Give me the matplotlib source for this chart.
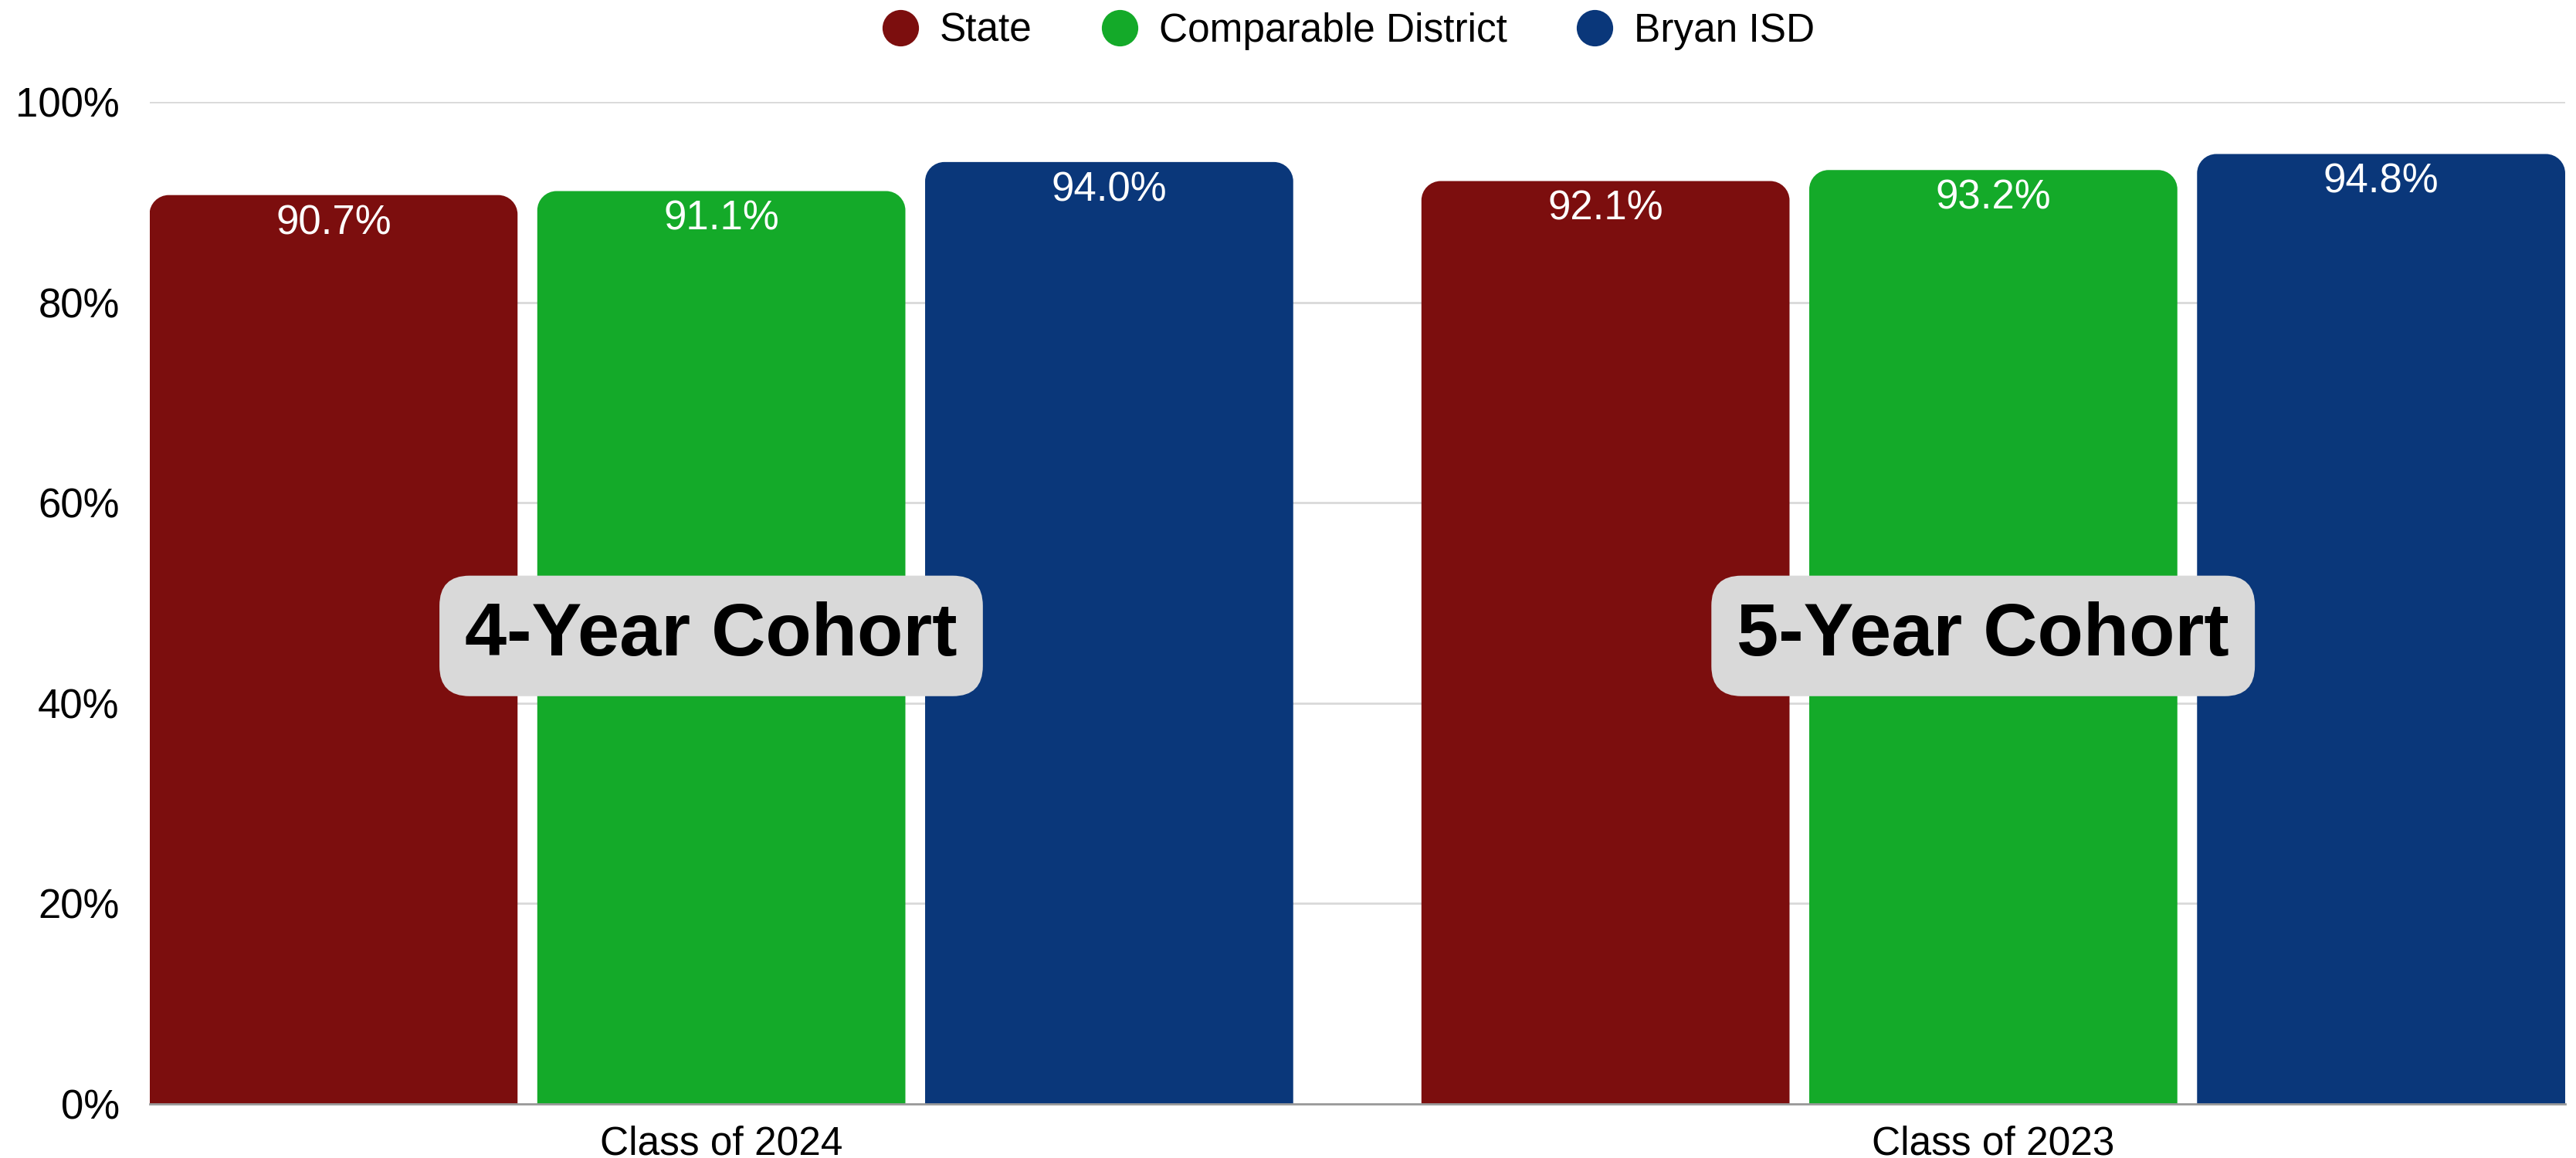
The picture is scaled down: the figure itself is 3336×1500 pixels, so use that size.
import numpy as np
import matplotlib.pyplot as plt
from matplotlib.path import Path
from matplotlib.patches import PathPatch
from matplotlib.lines import Line2D

plt.rcParams['font.family'] = ['Liberation Sans', 'DejaVu Sans']

# data
classes = ['Class of 2024', 'Class of 2023']
cohorts = ['4-Year Cohort', '5-Year Cohort']
series = ['State', 'Comparable District', 'Bryan ISD']
state = [90.7, 92.1]
comparable = [91.1, 93.2]
bryan = [94.0, 94.8]
colors = ['#7C0E0E', '#14AA29', '#0A377A']

W, H, DPI = 33.37, 15.0, 100
fig = plt.figure(figsize=(W, H), dpi=DPI)
ax = fig.add_axes([0.058, 0.0468, 0.9375, 0.8652])

x = np.arange(len(classes))
bw = 0.2894
step = 0.3049
xlim = (-0.4496, 1.4496)
ax.set_xlim(*xlim)
ax.set_ylim(0, 100)

# corner radius in pixels -> data units
ax_w_px = W * DPI * 0.9375
ax_h_px = H * DPI * 0.8652
r_px = 25
rx = r_px / ax_w_px * (xlim[1] - xlim[0])
ry = r_px / ax_h_px * 100
k = 0.5523


def top_rounded(x0, w, h, color):
    x1 = x0 + w
    verts = [(x0, 0), (x0, h - ry),
             (x0, h - ry + k * ry), (x0 + rx - k * rx, h), (x0 + rx, h),
             (x1 - rx, h),
             (x1 - rx + k * rx, h), (x1, h - ry + k * ry), (x1, h - ry),
             (x1, 0), (x0, 0)]
    codes = [Path.MOVETO, Path.LINETO,
             Path.CURVE4, Path.CURVE4, Path.CURVE4,
             Path.LINETO,
             Path.CURVE4, Path.CURVE4, Path.CURVE4,
             Path.LINETO, Path.CLOSEPOLY]
    ax.add_patch(PathPatch(Path(verts, codes), facecolor=color,
                           edgecolor='none', zorder=3))


for i, (vals, c) in enumerate(zip([state, comparable, bryan], colors)):
    for j, v in enumerate(vals):
        left = x[j] + (i - 1) * step - bw / 2
        top_rounded(left, bw, v, c)
        ax.text(left + bw / 2, v - 2.8, f'{v:.1f}%', ha='center', va='center',
                color='white', fontsize=38, zorder=4)

# cohort labels
for j, name in enumerate(cohorts):
    ax.text(x[j] - 0.008, 46.7, name, ha='center', va='center',
            fontsize=70, fontweight='bold', color='black', zorder=5,
            bbox=dict(boxstyle='round,pad=0.34,rounding_size=0.4',
                      facecolor='#D9D9D9', edgecolor='none'))

ax.set_yticks(range(0, 101, 20))
ax.set_yticklabels([f'{t}%' for t in range(0, 101, 20)])
ax.set_xticks(x)
ax.set_xticklabels(classes)
ax.tick_params(axis='y', length=0, pad=28, labelsize=38)
ax.tick_params(axis='x', length=0, pad=20, labelsize=37)
ax.grid(axis='y', color='#D9D9D9', linewidth=2, zorder=0)
ax.set_axisbelow(True)
for s in ['top', 'right', 'left']:
    ax.spines[s].set_visible(False)
ax.spines['bottom'].set_color('#999999')
ax.spines['bottom'].set_linewidth(2)
ax.spines['bottom'].set_zorder(5)

handles = [Line2D([], [], marker='o', linestyle='none', markersize=34,
                  markerfacecolor=c, markeredgecolor='none') for c in colors]
fig.legend(handles, series, loc='center', bbox_to_anchor=(0.523, 0.973),
           ncol=3, frameon=False, fontsize=37, handlelength=1.0,
           handletextpad=0.5, columnspacing=1.7)

fig.savefig('out.png', dpi=DPI)
